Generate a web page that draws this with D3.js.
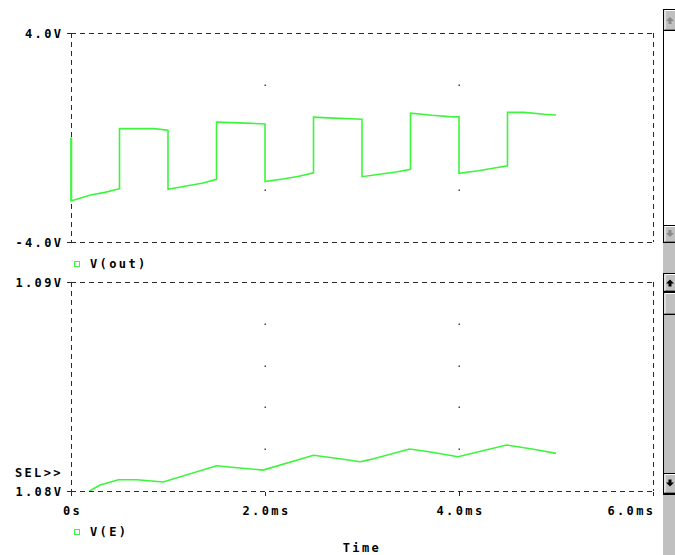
<!DOCTYPE html>
<html><head><meta charset="utf-8">
<script src="https://cdn.jsdelivr.net/npm/d3@7"></script>
<style>
html,body{margin:0;padding:0;background:#fff;}
svg{display:block;}
text{font-family:"DejaVu Sans Mono",monospace;font-weight:bold;font-size:12px;letter-spacing:2.4px;fill:#000;}
</style></head><body>
<svg id="c" width="675" height="555"></svg>
<script>
// ---- data ----
const xTickValues = [0, 2, 4, 6];
const xTickLabels = ["0s", "2.0ms", "4.0ms", "6.0ms"];
const topTickValues = [4, -4];
const topTickLabels = ["4.0V", "-4.0V"];
const botTickValues = [1.09, 1.08];
const botTickLabels = ["1.09V", "1.08V"];
const topGridV = [2, -2];
const botGridV = [1.088, 1.086, 1.084, 1.082];
const gridT = [2, 4];

// V(out): time (ms), volts
const outT = [0, 0, 0.1, 0.2, 0.35, 0.5, 0.5, 0.85, 1.0, 1.0, 1.2, 1.35, 1.5, 1.5, 1.8, 2.0, 2.0, 2.2, 2.35, 2.5, 2.5, 2.65, 3.0, 3.0, 3.2, 3.35, 3.5, 3.5, 3.72, 3.9, 4.0, 4.0, 4.2, 4.35, 4.5, 4.5, 4.67, 4.88, 5.0];
const outV = [0.0, -2.43, -2.32, -2.2, -2.1, -1.96, 0.34, 0.34, 0.28, -1.98, -1.85, -1.75, -1.6, 0.59, 0.55, 0.52, -1.69, -1.58, -1.48, -1.35, 0.78, 0.75, 0.70, -1.5, -1.4, -1.32, -1.22, 0.93, 0.85, 0.80, 0.79, -1.37, -1.27, -1.18, -1.08, 0.96, 0.96, 0.89, 0.86];

// V(E): time (ms), volts
const eT = [0.19, 0.30, 0.49, 0.68, 0.95, 1.50, 1.74, 1.98, 2.50, 2.81, 2.98, 3.08, 3.49, 3.69, 3.99, 4.49, 4.77, 5.00];
const eV = [1.08000, 1.08029, 1.08054, 1.08054, 1.08043, 1.08121, 1.08110, 1.08100, 1.08171, 1.08152, 1.08140, 1.08150, 1.08201, 1.08188, 1.08164, 1.08220, 1.08200, 1.08180];

// ---- drawing ----
const svg = d3.select("#c");
const X0 = 71, X1 = 653;
const x = d3.scaleLinear().domain([0, 6]).range([X0, X1]);
const yTop = d3.scaleLinear().domain([-4, 4]).range([242, 33]);
const yBot = d3.scaleLinear().domain([1.08, 1.09]).range([491, 282]);
const green = "#3df53d";
const dashCol = "#2a2a2a";

const defs = svg.append("defs");
defs.append("clipPath").attr("id", "clipTop").append("rect")
  .attr("x", X0 - 1).attr("y", 32).attr("width", X1 - X0 + 2).attr("height", 211);
defs.append("clipPath").attr("id", "clipBot").append("rect")
  .attr("x", X0 - 1).attr("y", 282).attr("width", X1 - X0 + 2).attr("height", 209.5);

function frame(y) {
  const [yb, yt] = y.range();
  const g = svg.append("g").attr("fill", "none").attr("stroke", dashCol)
    .attr("stroke-width", 1).attr("stroke-dasharray", "5,4").attr("shape-rendering", "crispEdges");
  g.append("line").attr("x1", X0).attr("x2", X1).attr("y1", yt + 0.5).attr("y2", yt + 0.5);
  g.append("line").attr("x1", X0).attr("x2", X1).attr("y1", yb + 0.5).attr("y2", yb + 0.5);
  g.append("line").attr("x1", X0 + 0.5).attr("x2", X0 + 0.5).attr("y1", yt).attr("y2", yb);
  g.append("line").attr("x1", X1 + 0.5).attr("x2", X1 + 0.5).attr("y1", yt).attr("y2", yb);
}

// grid dots
function dots(y, vals) {
  const pts = [];
  gridT.forEach(t => vals.forEach(v => pts.push([t, v])));
  svg.append("g").selectAll("rect").data(pts).join("rect")
    .attr("x", d => Math.round(x(d[0])) - 0.5).attr("y", d => Math.round(y(d[1])) - 0.5)
    .attr("width", 1.5).attr("height", 1.5).attr("fill", "#444");
}
dots(yTop, topGridV);
dots(yBot, botGridV);

// series
const outData = outT.map((t, i) => [t, outV[i]]);
const eData = eT.map((t, i) => [t, eV[i]]);
svg.append("path").datum(outData).attr("clip-path", "url(#clipTop)")
  .attr("fill", "none").attr("stroke", green).attr("stroke-width", 1.6)
  .attr("d", d3.line().x(d => x(d[0])).y(d => yTop(d[1])));
svg.append("path").datum(eData).attr("clip-path", "url(#clipBot)")
  .attr("fill", "none").attr("stroke", green).attr("stroke-width", 1.6)
  .attr("d", d3.line().x(d => x(d[0])).y(d => yBot(d[1])));

frame(yTop);
frame(yBot);
// redraw the green vertical edge at t=0 over the dashed axis
svg.append("path").datum(outData.slice(0, 2))
  .attr("fill", "none").attr("stroke", green).attr("stroke-width", 1.6)
  .attr("d", d3.line().x(d => x(d[0]) + 0.5).y(d => yTop(d[1])));

function yAxis(y, vals, labels) {
  const ax = d3.axisLeft(y).tickValues(vals).tickSize(5).tickPadding(3)
    .tickFormat((d, i) => labels[i]);
  const g = svg.append("g").attr("transform", `translate(${X0 + 0.5},0)`).call(ax);
  g.select(".domain").remove();
  g.selectAll(".tick line").attr("stroke", dashCol).attr("shape-rendering", "crispEdges");
  g.selectAll(".tick text").attr("font-size", null).attr("font-family", null).attr("fill", null)
    .attr("dy", "0.4em").attr("x", -8);
}
yAxis(yTop, topTickValues, topTickLabels);
yAxis(yBot, botTickValues, botTickLabels);

// x axis on bottom plot
const xa = d3.axisBottom(x).tickValues(xTickValues).tickSize(4).tickPadding(10)
  .tickFormat((d, i) => xTickLabels[i]);
const gx = svg.append("g").attr("transform", "translate(0,491.5)").call(xa);
gx.select(".domain").remove();
gx.selectAll(".tick line").attr("stroke", dashCol).attr("shape-rendering", "crispEdges");
gx.selectAll(".tick text").attr("font-size", null).attr("font-family", null).attr("fill", null)
  .attr("dy", "0.75em")
  .attr("text-anchor", (d, i) => i === xTickValues.length - 1 ? "end" : "middle")
  .attr("x", (d, i) => i === xTickValues.length - 1 ? 2 : 1);

// legends
function legend(yy, label) {
  svg.append("rect").attr("x", 74.5).attr("y", yy - 6.5).attr("width", 5).attr("height", 5)
    .attr("fill", "none").attr("stroke", green).attr("stroke-width", 1);
  svg.append("text").attr("x", 90).attr("y", yy).text(label);
}
legend(268, "V(out)");
legend(536, "V(E)");

svg.append("text").attr("x", 63).attr("y", 477).attr("text-anchor", "end").text("SEL>>");
svg.append("text").attr("x", 362).attr("y", 552).attr("text-anchor", "middle").text("Time");

// scrollbars
const sb = svg.append("g");
sb.append("rect").attr("x", 663).attr("y", 243).attr("width", 12).attr("height", 312).attr("fill", "#c0c0c0");
function button(y, h, arrowUp, active) {
  sb.append("rect").attr("x", 663.5).attr("y", y + 0.5).attr("width", 14).attr("height", h - 1)
    .attr("fill", "#c0c0c0").attr("stroke", "#000");
  sb.append("path").attr("d", `M665,${y + h - 2}V${y + 1.5}H676`).attr("stroke", "#fff").attr("fill", "none");
  sb.append("path").attr("d", `M665,${y + h - 1.5}H676`).attr("stroke", "#808080").attr("fill", "none");
  if (arrowUp !== null) {
    const cx = 670, cy = y + h / 2;
    const d = arrowUp
      ? `M${cx - 4},${cy + 1}L${cx},${cy - 3}L${cx + 4},${cy + 1}H${cx + 1.5}V${cy + 4}H${cx - 1.5}V${cy + 1}Z`
      : `M${cx - 4},${cy - 1}L${cx},${cy + 3}L${cx + 4},${cy - 1}H${cx + 1.5}V${cy - 4}H${cx - 1.5}V${cy - 1}Z`;
    sb.append("path").attr("d", d).attr("fill", active ? "#000" : "#8a8a8a");
  }
}
// top scrollbar
sb.append("rect").attr("x", 663.5).attr("y", 9.5).attr("width", 14).attr("height", 233).attr("fill", "#fff").attr("stroke", "#000");
button(9, 22, true, false);
button(225, 18, false, false);
// bottom scrollbar
sb.append("rect").attr("x", 663.5).attr("y", 273.5).attr("width", 14).attr("height", 221).attr("fill", "#c0c0c0").attr("stroke", "#000");
button(273, 19, true, true);
button(292, 23, null, true);
button(473, 21, false, true);
</script>
</body></html>
